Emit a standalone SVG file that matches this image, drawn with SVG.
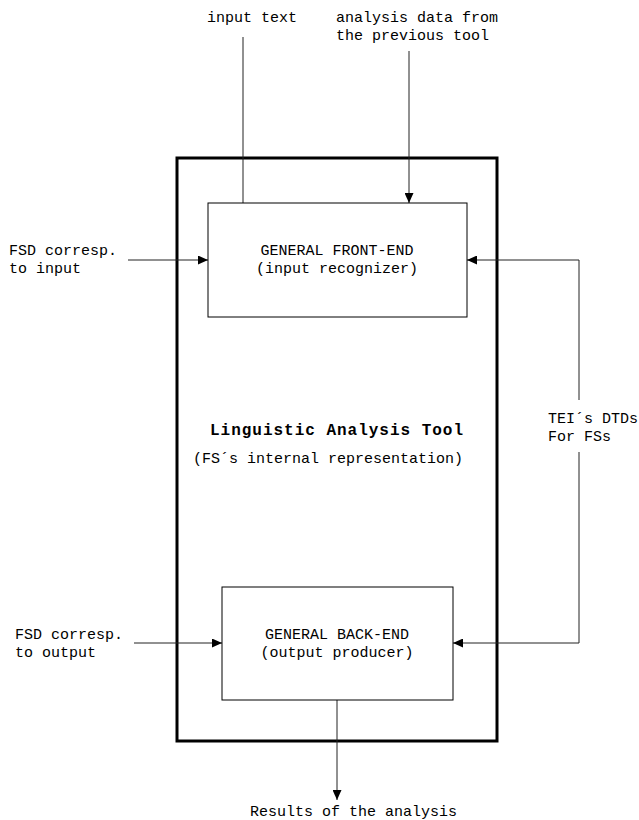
<svg xmlns="http://www.w3.org/2000/svg" width="639" height="820" viewBox="0 0 639 820">
<style>
text{font-family:"Liberation Mono","Courier New",monospace;font-size:15px;fill:#000}
.b{font-weight:bold;font-size:16px}
.m{text-anchor:middle}
.box{fill:#fff;stroke:#000;stroke-width:1}
.outer{fill:none;stroke:#000;stroke-width:3}
.c{fill:none;stroke:#222;stroke-width:1}
</style>
<defs>
<marker id="ah" markerUnits="userSpaceOnUse" markerWidth="10" markerHeight="9" refX="10" refY="4.5" orient="auto-start-reverse" viewBox="0 0 10 9">
<path d="M0,0 L10,4.5 L0,9 Z" fill="#000"/>
</marker>
</defs>
<g id="tool">
<rect class="outer" x="177" y="158" width="320" height="583"/>
<text class="b" x="210" y="435" textLength="253" lengthAdjust="spacing">Linguistic Analysis Tool</text>
<text x="193" y="463">(FS´s internal representation)</text>
</g>
<g id="connectors">
<path class="c" d="M243,37 V203"/>
<path class="c" d="M409,51 V203" marker-end="url(#ah)"/>
<path class="c" d="M128,260 H208" marker-end="url(#ah)"/>
<path class="c" d="M579,400 V260 H467" marker-end="url(#ah)"/>
<path class="c" d="M579,452 V643 H453" marker-end="url(#ah)"/>
<path class="c" d="M134,643 H222" marker-end="url(#ah)"/>
<path class="c" d="M337,700 V800" marker-end="url(#ah)"/>
</g>
<g id="front-end">
<rect class="box" x="208" y="203" width="259" height="114"/>
<text class="m" x="337" y="255">GENERAL FRONT-END</text>
<text class="m" x="337" y="273">(input recognizer)</text>
</g>
<g id="back-end">
<rect class="box" x="222" y="587" width="231" height="113"/>
<text class="m" x="337" y="639">GENERAL BACK-END</text>
<text class="m" x="337" y="657">(output producer)</text>
</g>
<g id="input-text"><text x="207" y="22">input text</text></g>
<g id="analysis-data">
<text x="336" y="22">analysis data from</text>
<text x="336" y="40">the previous tool</text>
</g>
<g id="fsd-input">
<text x="9" y="255">FSD corresp.</text>
<text x="9" y="273">to input</text>
</g>
<g id="tei">
<text x="548" y="423">TEI´s DTDs</text>
<text x="548" y="441">For FSs</text>
</g>
<g id="fsd-output">
<text x="15" y="639">FSD corresp.</text>
<text x="15" y="657">to output</text>
</g>
<g id="results"><text x="250" y="816">Results of the analysis</text></g>
</svg>
